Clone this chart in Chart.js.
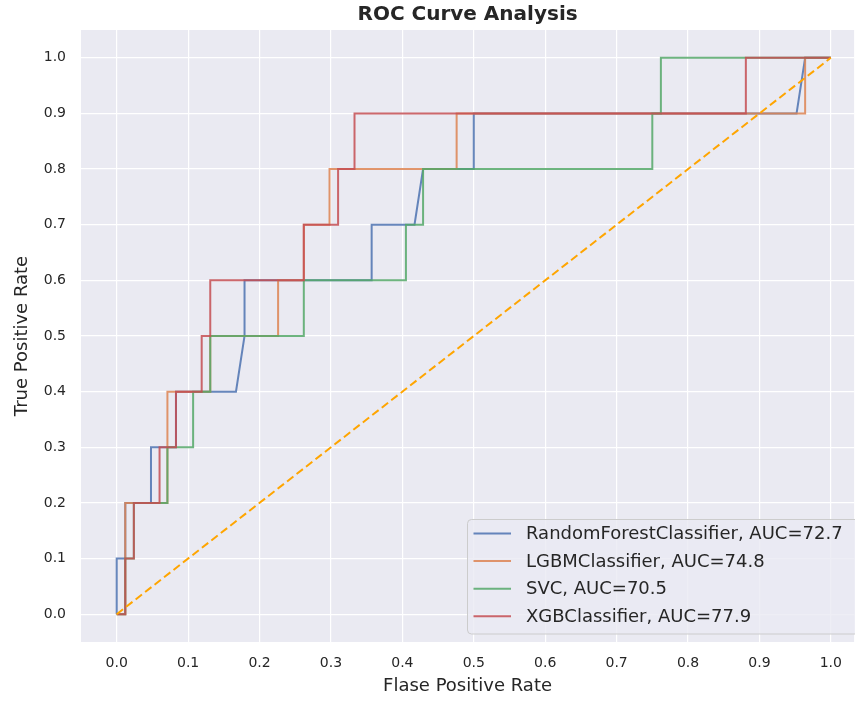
<!DOCTYPE html>
<html>
<head>
<meta charset="utf-8">
<script src="https://cdn.jsdelivr.net/npm/chart.js@4"></script>
<style>
  html, body { margin: 0; padding: 0; background: #ffffff; }
  #wrap { width: 855px; height: 702px; }
</style>
</head>
<body>
<div id="wrap"><canvas id="roc-chart"></canvas></div>
<script>
// ticks
var xTicks = [0.0, 0.1, 0.2, 0.3, 0.4, 0.5, 0.6, 0.7, 0.8, 0.9, 1.0];
var yTicks = [0.0, 0.1, 0.2, 0.3, 0.4, 0.5, 0.6, 0.7, 0.8, 0.9, 1.0];

// curvas ROC (fpr / tpr)
var modelNames = ['RandomForestClassifier', 'LGBMClassifier', 'SVC', 'XGBClassifier'];
var modelAuc = [72.7, 74.8, 70.5, 77.9];

var rfFpr = [0, 0, 0.012, 0.012, 0.048, 0.048, 0.083, 0.083, 0.167, 0.179, 0.179, 0.357, 0.357, 0.417, 0.429, 0.500, 0.500, 0.952, 0.964, 1.0];
var rfTpr = [0, 0.1, 0.1, 0.2, 0.2, 0.3, 0.3, 0.4, 0.4, 0.5, 0.6, 0.6, 0.7, 0.7, 0.8, 0.8, 0.9, 0.9, 1.0, 1.0];

var lgbmFpr = [0, 0.012, 0.012, 0.071, 0.071, 0.131, 0.131, 0.226, 0.226, 0.262, 0.262, 0.298, 0.298, 0.476, 0.476, 0.964, 0.964, 1.0];
var lgbmTpr = [0, 0, 0.2, 0.2, 0.4, 0.4, 0.5, 0.5, 0.6, 0.6, 0.7, 0.7, 0.8, 0.8, 0.9, 0.9, 1.0, 1.0];

var svcFpr = [0, 0.012, 0.012, 0.024, 0.024, 0.071, 0.071, 0.107, 0.107, 0.131, 0.131, 0.262, 0.262, 0.405, 0.405, 0.429, 0.429, 0.750, 0.750, 0.762, 0.762, 1.0];
var svcTpr = [0, 0, 0.1, 0.1, 0.2, 0.2, 0.3, 0.3, 0.4, 0.4, 0.5, 0.5, 0.6, 0.6, 0.7, 0.7, 0.8, 0.8, 0.9, 0.9, 1.0, 1.0];

var xgbFpr = [0, 0.012, 0.012, 0.024, 0.024, 0.060, 0.060, 0.083, 0.083, 0.119, 0.119, 0.131, 0.131, 0.262, 0.262, 0.310, 0.310, 0.333, 0.333, 0.881, 0.881, 1.0];
var xgbTpr = [0, 0, 0.1, 0.1, 0.2, 0.2, 0.3, 0.3, 0.4, 0.4, 0.5, 0.5, 0.6, 0.6, 0.7, 0.7, 0.8, 0.8, 0.9, 0.9, 1.0, 1.0];

var diagFpr = [0, 1];
var diagTpr = [0, 1];

var modelColors = ['rgba(76, 114, 176, 0.85)', 'rgba(221, 132, 82, 0.85)', 'rgba(85, 168, 104, 0.85)', 'rgba(196, 78, 82, 0.85)'];

function toPoints(xs, ys) {
    return xs.map(function (x, i) { return { x: x, y: ys[i] }; });
}

var curves = [
    toPoints(rfFpr, rfTpr),
    toPoints(lgbmFpr, lgbmTpr),
    toPoints(svcFpr, svcTpr),
    toPoints(xgbFpr, xgbTpr)
];

var datasets = curves.map(function (pts, i) {
    return {
        label: modelNames[i] + ', AUC=' + modelAuc[i].toFixed(1),
        data: pts,
        borderColor: modelColors[i],
        borderWidth: 2,
        pointRadius: 0,
        tension: 0,
        fill: false,
        order: 4 - i   // la ultima serie queda encima
    };
});
datasets.push({
    label: 'diagonal',
    data: toPoints(diagFpr, diagTpr),
    borderColor: '#FFA500',
    borderWidth: 2,
    borderDash: [8, 4],
    pointRadius: 0,
    fill: false,
    order: 0
});

var FONT = "'DejaVu Sans', sans-serif";
var TXT = '#262626';

// fondo del area del grafico (estilo seaborn darkgrid)
var plotBg = {
    id: 'plotBg',
    beforeDraw: function (chart) {
        var a = chart.chartArea, c = chart.ctx;
        c.save();
        c.fillStyle = '#EAEAF2';
        c.fillRect(a.left, a.top, a.right - a.left, a.bottom - a.top);
        c.restore();
    }
};

// leyenda dentro del area, abajo a la derecha
var innerLegend = {
    id: 'innerLegend',
    afterDraw: function (chart) {
        var c = chart.ctx;
        var boxX = 467.5, boxY = 519.5, boxW = 420, boxH = 114.5;
        c.save();
        c.beginPath();
        c.roundRect(boxX, boxY, boxW, boxH, 4);
        c.fillStyle = 'rgba(234, 234, 242, 0.8)';
        c.fill();
        c.strokeStyle = '#CCCCCC';
        c.lineWidth = 1;
        c.stroke();
        c.font = '18px ' + FONT;
        c.textBaseline = 'middle';
        c.textAlign = 'left';
        for (var i = 0; i < modelNames.length; i++) {
            var y = 533.5 + i * 27.6;
            c.strokeStyle = modelColors[i];
            c.lineWidth = 2;
            c.beginPath();
            c.moveTo(473.5, y);
            c.lineTo(511, y);
            c.stroke();
            c.fillStyle = TXT;
            c.fillText(chart.data.datasets[i].label, 526, y + 1);
        }
        c.restore();
    }
};

var rocCtx = document.getElementById('roc-chart').getContext('2d');
var rocChart = new Chart(rocCtx, {
    type: 'line',
    data: { datasets: datasets },
    plugins: [plotBg, innerLegend],
    options: {
        responsive: true,
        maintainAspectRatio: false,
        animation: false,
        layout: { padding: 0 },
        plugins: {
            legend: { display: false },
            tooltip: { enabled: false },
            title: {
                display: true,
                fullSize: false,
                text: 'ROC Curve Analysis',
                color: TXT,
                font: { family: FONT, size: 20, weight: 'bold' },
                padding: { top: 3, bottom: 3 }
            }
        },
        scales: {
            x: {
                type: 'linear',
                min: -0.05,
                max: 1.0326,
                afterBuildTicks: function (s) { s.ticks = xTicks.map(function (v) { return { value: v }; }); },
                afterFit: function (s) { s.height = 60; },
                grid: { color: '#FFFFFF', lineWidth: 1.2, drawTicks: false },
                border: { display: false },
                ticks: {
                    padding: 13,
                    color: TXT,
                    font: { family: FONT, size: 14 },
                    callback: function (v) { return v.toFixed(1); }
                },
                title: {
                    display: true,
                    text: 'Flase Positive Rate',
                    color: TXT,
                    font: { family: FONT, size: 18 },
                    padding: { top: 0, bottom: 5 }
                }
            },
            y: {
                min: -0.05,
                max: 1.05,
                afterBuildTicks: function (s) { s.ticks = yTicks.map(function (v) { return { value: v }; }); },
                afterFit: function (s) { s.width = 81; },
                grid: { color: '#FFFFFF', lineWidth: 1.2, drawTicks: false },
                border: { display: false },
                ticks: {
                    padding: 15,
                    color: TXT,
                    font: { family: FONT, size: 14 },
                    callback: function (v) { return v.toFixed(1); }
                },
                title: {
                    display: true,
                    text: 'True Positive Rate',
                    color: TXT,
                    font: { family: FONT, size: 18 },
                    padding: { top: 12, bottom: 0 }
                }
            }
        }
    }
});
</script>
</body>
</html>
